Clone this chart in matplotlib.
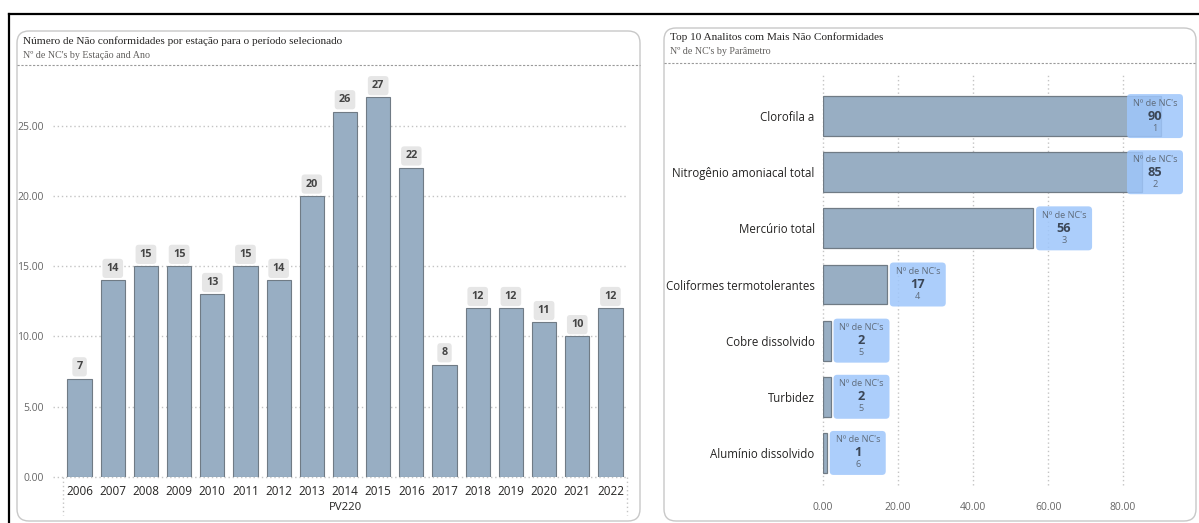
import matplotlib
matplotlib.use("Agg")
import matplotlib.pyplot as plt
from matplotlib.patches import FancyBboxPatch
from matplotlib.lines import Line2D

# data: left chart (NC por ano, estação PV220)
anos = ['2006', '2007', '2008', '2009', '2010', '2011', '2012', '2013', '2014',
        '2015', '2016', '2017', '2018', '2019', '2020', '2021', '2022']
nc_ano = [7, 14, 15, 15, 13, 15, 14, 20, 26, 27, 22, 8, 12, 12, 11, 10, 12]

# data: right chart (top analitos)
analitos = ['Clorofila a', 'Nitrogênio amoniacal total', 'Mercúrio total',
            'Coliformes termotolerantes', 'Cobre dissolvido', 'Turbidez',
            'Alumínio dissolvido']
nc_analito = [90, 85, 56, 17, 2, 2, 1]
rank = [1, 2, 3, 4, 5, 5, 6]

W, H = 1199, 523
BAR = '#98aec3'
EDGE = '#707b85'
GRID = '#c4c4c4'
SANS = ['Open Sans', 'DejaVu Sans']
SERIF = ['Liberation Serif', 'DejaVu Serif']


def fx(px):
    return px / W


def fy(py):
    return 1 - py / H


fig = plt.figure(figsize=(W / 100, H / 100), dpi=100)
fig.patch.set_facecolor('white')

# outer black frame lines (top, left)
fig.add_artist(Line2D([fx(9), fx(1199)], [fy(14), fy(14)], color='black', lw=1.6, zorder=-5))
fig.add_artist(Line2D([fx(9), fx(9)], [fy(14), fy(523)], color='black', lw=1.6, zorder=-5))

# panels
for x0, y0, x1, y1 in [(17, 31, 640, 521), (664, 28, 1196, 521)]:
    fig.add_artist(FancyBboxPatch((fx(x0), fy(y1)), fx(x1 - x0), (y1 - y0) / H,
                                  boxstyle='round,pad=0,rounding_size=0.01',
                                  transform=fig.transFigure, facecolor='white',
                                  edgecolor='#c8c8c8', lw=1.0, mutation_aspect=W / H,
                                  zorder=-5))

# titles
fig.text(fx(23), fy(41), 'Número de Não conformidades por estação para o período selecionado',
         family=SERIF, fontsize=8.1, color='#252423', va='center')
fig.text(fx(23), fy(56), "Nº de NC's by Estação and Ano",
         family=SERIF, fontsize=7.2, color='#605e5c', va='center')
fig.add_artist(Line2D([fx(17), fx(640)], [fy(65), fy(65)], color='#9a9a9a', lw=0.8,
                      ls=(0, (2, 1.5)), zorder=-4))

fig.text(fx(670), fy(37), 'Top 10 Analitos com Mais Não Conformidades',
         family=SERIF, fontsize=8.1, color='#252423', va='center')
fig.text(fx(670), fy(51), "Nº de NC's by Parâmetro",
         family=SERIF, fontsize=7.2, color='#605e5c', va='center')
fig.add_artist(Line2D([fx(664), fx(1196)], [fy(63), fy(63)], color='#9a9a9a', lw=0.8,
                      ls=(0, (2, 1.5)), zorder=-4))

# ---------------- left chart ----------------
ax1 = fig.add_axes([fx(63), fy(477), fx(627 - 63), (477 - 75) / H])
ax1.patch.set_visible(False)
pos = list(range(len(anos)))
ax1.bar(pos, nc_ano, width=0.73, color=BAR, edgecolor=EDGE, linewidth=0.8, zorder=3)
ax1.set_xlim(-0.5, len(anos) - 0.5)
ax1.set_ylim(0, 28.6)
ax1.set_yticks([0, 5, 10, 15, 20, 25])
ax1.set_yticklabels(['0.00', '5.00', '10.00', '15.00', '20.00', '25.00'])
ax1.set_xticks(pos)
ax1.set_xticklabels(anos)
for s in ax1.spines.values():
    s.set_visible(False)
ax1.tick_params(axis='y', length=0, pad=14, labelsize=7.5, labelcolor='#666666')
ax1.tick_params(axis='x', length=0, pad=6, labelsize=8.4, labelcolor='#252423')
for lab in ax1.get_xticklabels() + ax1.get_yticklabels():
    lab.set_family(SANS)
ax1.hlines([0, 5, 10, 15, 20, 25], -0.018, 1, transform=ax1.get_yaxis_transform(),
           colors=GRID, linestyles=(0, (1, 2)), lw=1.0, clip_on=False, zorder=1)
for xa in (0, 1):
    ax1.add_line(Line2D([xa, xa], [0, -38 / 402], transform=ax1.transAxes,
                        color=GRID, lw=1.0, ls=(0, (1, 2)), clip_on=False))
ax1.text(0.5, -30 / 402, 'PV220', transform=ax1.transAxes, ha='center', va='center',
         family=SANS, fontsize=8.2, color='#252423')
for p, v in zip(pos, nc_ano):
    ax1.annotate(str(v), (p, v), xytext=(0, 8.5), textcoords='offset points',
                 ha='center', va='center', fontsize=7.8, fontweight='bold',
                 color='#444444', family=SANS,
                 bbox=dict(boxstyle='round,pad=0.38,rounding_size=0.3',
                           fc='#e6e6e6', ec='none'))

# ---------------- right chart ----------------
ax2 = fig.add_axes([fx(823), fy(481), fx(1185 - 823), (481 - 88) / H])
ax2.patch.set_visible(False)
rows = list(range(len(analitos)))
ax2.barh(rows, nc_analito, height=0.71, color=BAR, edgecolor=EDGE, linewidth=0.9, zorder=3)
ax2.set_xlim(0, 96.5)
ax2.set_ylim(len(analitos) - 0.5, -0.5)
ax2.set_yticks(rows)
ax2.set_yticklabels(analitos)
ax2.set_xticks([0, 20, 40, 60, 80])
ax2.set_xticklabels(['0.00', '20.00', '40.00', '60.00', '80.00'])
for s in ax2.spines.values():
    s.set_visible(False)
ax2.tick_params(axis='y', length=0, pad=6, labelsize=8.3, labelcolor='#252423')
ax2.tick_params(axis='x', length=0, pad=15, labelsize=7.5, labelcolor='#666666')
for lab in ax2.get_xticklabels() + ax2.get_yticklabels():
    lab.set_family(SANS)
ax2.vlines([0, 20, 40, 60, 80], -0.01, 1.033, transform=ax2.get_xaxis_transform(),
           colors=GRID, linestyles=(0, (1, 2)), lw=1.0, clip_on=False, zorder=1)

# data label cards
px_per_x = (1185 - 823) / 96.5
px_per_row = (481 - 88) / len(analitos)
box_w = 56 / px_per_x
box_h = 44 / px_per_row
x_max = (1183 - 823) / px_per_x - box_w
for r, v, k in zip(rows, nc_analito, rank):
    x0 = min(v + 3 / px_per_x, x_max)
    ax2.add_patch(FancyBboxPatch((x0, r - box_h / 2), box_w, box_h,
                                 boxstyle='round,pad=0,rounding_size=1.0',
                                 mutation_aspect=px_per_x / px_per_row,
                                 fc='#9ec6fb', ec='none', alpha=0.85, zorder=4,
                                 clip_on=False))
    xc = x0 + box_w / 2
    ax2.text(xc, r - 13 / px_per_row, "Nº de NC's", ha='center', va='center',
             fontsize=6.6, color='#5f6b7a', family=SANS, zorder=5)
    ax2.text(xc, r, str(v), ha='center', va='center', fontsize=9.2,
             fontweight='bold', color='#3b4656', family=SANS, zorder=5)
    ax2.text(xc, r + 12 / px_per_row, str(k), ha='center', va='center',
             fontsize=6.6, color='#5f6b7a', family=SANS, zorder=5)

fig.savefig('out.png', dpi=100)
